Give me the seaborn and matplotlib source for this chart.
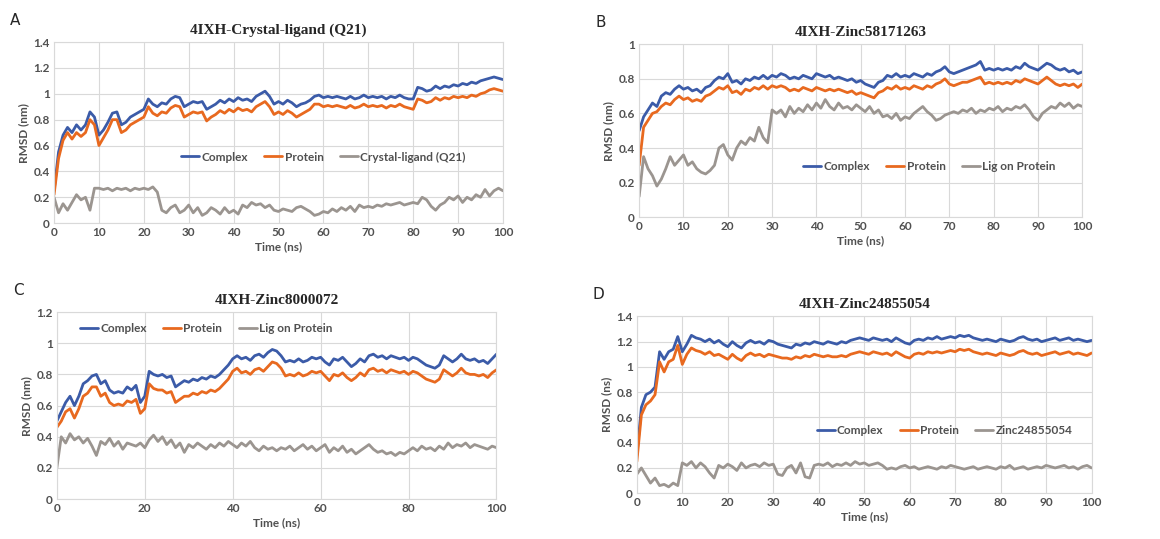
import pandas as pd
import numpy as np
import seaborn as sns
import matplotlib.pyplot as plt

time_ns = list(range(0, 101))

# Panel A - 4IXH-Crystal-ligand (Q21)
a_complex = [0.25, 0.55, 0.68, 0.74, 0.70, 0.76, 0.72, 0.76, 0.86, 0.82, 0.68, 0.72, 0.78, 0.85, 0.86, 0.76, 0.78, 0.82, 0.84, 0.86,
             0.88, 0.96, 0.92, 0.90, 0.93, 0.92, 0.96, 0.98, 0.97, 0.90, 0.92, 0.94, 0.93, 0.94, 0.88, 0.90, 0.92, 0.95, 0.93, 0.96,
             0.94, 0.97, 0.95, 0.96, 0.94, 0.98, 1.00, 1.02, 0.98, 0.92, 0.94, 0.92, 0.95, 0.93, 0.90, 0.92, 0.93, 0.95, 0.98, 0.99,
             0.97, 0.98, 0.97, 0.98, 0.97, 0.96, 0.98, 0.96, 0.97, 0.99, 0.97, 0.98, 0.97, 0.98, 0.96, 0.98, 0.97, 0.99, 0.97, 0.96,
             0.96, 1.05, 1.04, 1.02, 1.03, 1.06, 1.04, 1.06, 1.05, 1.07, 1.06, 1.08, 1.07, 1.09, 1.08, 1.10, 1.11, 1.12, 1.13, 1.12, 1.11]
a_protein = [0.22, 0.50, 0.64, 0.70, 0.65, 0.70, 0.67, 0.70, 0.80, 0.76, 0.60, 0.66, 0.72, 0.80, 0.80, 0.70, 0.72, 0.76, 0.78, 0.80,
             0.82, 0.90, 0.85, 0.83, 0.86, 0.85, 0.89, 0.91, 0.90, 0.82, 0.84, 0.86, 0.85, 0.86, 0.79, 0.82, 0.84, 0.87, 0.85, 0.88,
             0.86, 0.89, 0.87, 0.88, 0.86, 0.90, 0.92, 0.94, 0.90, 0.84, 0.86, 0.84, 0.87, 0.85, 0.82, 0.84, 0.86, 0.88, 0.92, 0.92,
             0.90, 0.91, 0.90, 0.91, 0.90, 0.89, 0.91, 0.89, 0.90, 0.92, 0.90, 0.91, 0.90, 0.91, 0.89, 0.91, 0.90, 0.92, 0.90, 0.89,
             0.88, 0.96, 0.95, 0.93, 0.94, 0.97, 0.95, 0.97, 0.96, 0.98, 0.97, 0.98, 0.97, 0.99, 0.98, 1.00, 1.01, 1.03, 1.04, 1.03, 1.02]
a_ligand = [0.20, 0.08, 0.15, 0.10, 0.16, 0.22, 0.18, 0.20, 0.10, 0.27, 0.27, 0.26, 0.27, 0.25, 0.27, 0.26, 0.27, 0.25, 0.27, 0.26,
            0.27, 0.26, 0.28, 0.24, 0.10, 0.08, 0.12, 0.14, 0.08, 0.10, 0.14, 0.08, 0.12, 0.06, 0.08, 0.12, 0.10, 0.07, 0.12, 0.08,
            0.10, 0.07, 0.14, 0.12, 0.16, 0.14, 0.15, 0.12, 0.14, 0.10, 0.09, 0.11, 0.10, 0.09, 0.12, 0.13, 0.11, 0.09, 0.06, 0.07,
            0.09, 0.08, 0.11, 0.09, 0.12, 0.10, 0.13, 0.09, 0.14, 0.12, 0.13, 0.12, 0.14, 0.13, 0.15, 0.14, 0.15, 0.16, 0.14, 0.15,
            0.16, 0.15, 0.20, 0.18, 0.13, 0.10, 0.14, 0.16, 0.20, 0.18, 0.21, 0.16, 0.20, 0.18, 0.22, 0.20, 0.26, 0.21, 0.25, 0.27, 0.25]

# Panel B - 4IXH-Zinc58171263
b_complex = [0.50, 0.58, 0.62, 0.66, 0.64, 0.70, 0.72, 0.71, 0.74, 0.76, 0.74, 0.75, 0.73, 0.74, 0.72, 0.75, 0.76, 0.79, 0.81, 0.80,
             0.83, 0.78, 0.79, 0.77, 0.80, 0.79, 0.81, 0.80, 0.82, 0.80, 0.82, 0.81, 0.83, 0.82, 0.80, 0.81, 0.80, 0.82, 0.81, 0.80,
             0.83, 0.82, 0.81, 0.82, 0.80, 0.81, 0.80, 0.79, 0.80, 0.78, 0.79, 0.77, 0.76, 0.75, 0.78, 0.79, 0.82, 0.81, 0.83, 0.81,
             0.82, 0.81, 0.83, 0.82, 0.81, 0.83, 0.82, 0.84, 0.85, 0.87, 0.84, 0.83, 0.84, 0.85, 0.86, 0.87, 0.88, 0.90, 0.85, 0.86,
             0.85, 0.86, 0.85, 0.86, 0.85, 0.87, 0.86, 0.89, 0.87, 0.86, 0.85, 0.87, 0.89, 0.88, 0.86, 0.85, 0.86, 0.84, 0.85, 0.83, 0.84]
b_protein = [0.30, 0.52, 0.56, 0.60, 0.61, 0.64, 0.66, 0.65, 0.68, 0.70, 0.68, 0.69, 0.67, 0.68, 0.67, 0.70, 0.71, 0.73, 0.75, 0.74,
             0.76, 0.72, 0.73, 0.71, 0.74, 0.73, 0.75, 0.74, 0.76, 0.74, 0.76, 0.75, 0.76, 0.75, 0.73, 0.74, 0.73, 0.75, 0.74, 0.73,
             0.75, 0.74, 0.73, 0.74, 0.73, 0.74, 0.73, 0.72, 0.73, 0.71, 0.72, 0.71, 0.70, 0.69, 0.72, 0.73, 0.75, 0.74, 0.76, 0.74,
             0.75, 0.74, 0.76, 0.75, 0.74, 0.76, 0.75, 0.77, 0.78, 0.80, 0.77, 0.76, 0.77, 0.78, 0.78, 0.79, 0.80, 0.81, 0.77, 0.78,
             0.77, 0.78, 0.77, 0.78, 0.77, 0.79, 0.78, 0.80, 0.79, 0.78, 0.77, 0.79, 0.81, 0.79, 0.77, 0.76, 0.77, 0.76, 0.77, 0.75, 0.77]
b_ligand = [0.12, 0.35, 0.28, 0.24, 0.18, 0.22, 0.28, 0.35, 0.30, 0.33, 0.36, 0.30, 0.32, 0.28, 0.26, 0.25, 0.27, 0.30, 0.40, 0.42,
            0.36, 0.33, 0.40, 0.44, 0.42, 0.46, 0.44, 0.52, 0.46, 0.43, 0.62, 0.60, 0.62, 0.58, 0.64, 0.60, 0.63, 0.61, 0.65, 0.62,
            0.66, 0.63, 0.68, 0.64, 0.62, 0.66, 0.63, 0.64, 0.62, 0.65, 0.63, 0.61, 0.64, 0.60, 0.62, 0.58, 0.59, 0.57, 0.60, 0.56,
            0.58, 0.57, 0.60, 0.62, 0.64, 0.61, 0.59, 0.56, 0.57, 0.59, 0.60, 0.61, 0.60, 0.62, 0.61, 0.63, 0.60, 0.62, 0.61, 0.63,
            0.62, 0.64, 0.61, 0.63, 0.62, 0.64, 0.63, 0.65, 0.62, 0.58, 0.56, 0.60, 0.62, 0.64, 0.63, 0.66, 0.64, 0.66, 0.63, 0.65, 0.64]

# Panel C - 4IXH-Zinc8000072
c_complex = [0.50, 0.56, 0.62, 0.66, 0.60, 0.66, 0.74, 0.76, 0.79, 0.80, 0.74, 0.76, 0.70, 0.68, 0.69, 0.68, 0.72, 0.70, 0.73, 0.62,
             0.66, 0.82, 0.80, 0.79, 0.80, 0.78, 0.79, 0.72, 0.74, 0.76, 0.75, 0.77, 0.76, 0.78, 0.77, 0.79, 0.78, 0.80, 0.83, 0.86,
             0.90, 0.92, 0.90, 0.91, 0.89, 0.92, 0.93, 0.91, 0.94, 0.96, 0.95, 0.92, 0.88, 0.89, 0.88, 0.90, 0.88, 0.89, 0.91, 0.90,
             0.91, 0.88, 0.86, 0.90, 0.89, 0.91, 0.88, 0.85, 0.87, 0.90, 0.88, 0.92, 0.93, 0.91, 0.92, 0.90, 0.92, 0.91, 0.90, 0.91,
             0.89, 0.91, 0.90, 0.88, 0.86, 0.85, 0.84, 0.86, 0.92, 0.90, 0.88, 0.90, 0.93, 0.90, 0.89, 0.90, 0.88, 0.89, 0.87, 0.90, 0.93]
c_protein = [0.46, 0.50, 0.56, 0.58, 0.52, 0.58, 0.66, 0.68, 0.72, 0.72, 0.66, 0.68, 0.62, 0.60, 0.61, 0.60, 0.63, 0.62, 0.64, 0.55,
             0.58, 0.74, 0.71, 0.70, 0.70, 0.68, 0.69, 0.62, 0.64, 0.66, 0.66, 0.68, 0.67, 0.69, 0.68, 0.70, 0.69, 0.71, 0.74, 0.77,
             0.82, 0.84, 0.81, 0.82, 0.80, 0.83, 0.84, 0.82, 0.85, 0.88, 0.87, 0.84, 0.79, 0.80, 0.79, 0.81, 0.79, 0.80, 0.82, 0.81,
             0.82, 0.79, 0.76, 0.80, 0.79, 0.81, 0.78, 0.76, 0.78, 0.81, 0.79, 0.83, 0.84, 0.82, 0.83, 0.81, 0.83, 0.82, 0.81, 0.82,
             0.80, 0.82, 0.81, 0.79, 0.77, 0.76, 0.75, 0.77, 0.83, 0.81, 0.79, 0.81, 0.84, 0.81, 0.80, 0.80, 0.79, 0.80, 0.78, 0.81, 0.83]
c_ligand = [0.20, 0.40, 0.36, 0.42, 0.38, 0.40, 0.36, 0.39, 0.34, 0.28, 0.37, 0.35, 0.39, 0.34, 0.37, 0.32, 0.36, 0.35, 0.34, 0.36,
            0.33, 0.38, 0.41, 0.37, 0.40, 0.35, 0.38, 0.33, 0.36, 0.30, 0.35, 0.33, 0.36, 0.34, 0.32, 0.35, 0.33, 0.36, 0.34, 0.37,
            0.35, 0.33, 0.36, 0.34, 0.37, 0.33, 0.31, 0.34, 0.32, 0.33, 0.31, 0.33, 0.32, 0.34, 0.31, 0.33, 0.35, 0.32, 0.34, 0.31,
            0.33, 0.35, 0.30, 0.33, 0.31, 0.34, 0.30, 0.32, 0.29, 0.31, 0.33, 0.35, 0.32, 0.30, 0.31, 0.29, 0.30, 0.28, 0.30, 0.29,
            0.31, 0.33, 0.31, 0.34, 0.32, 0.33, 0.31, 0.34, 0.32, 0.36, 0.33, 0.35, 0.34, 0.36, 0.33, 0.35, 0.34, 0.33, 0.32, 0.34, 0.33]

# Panel D - 4IXH-Zinc24855054
d_complex = [0.30, 0.68, 0.78, 0.80, 0.84, 1.12, 1.06, 1.12, 1.14, 1.24, 1.12, 1.18, 1.25, 1.23, 1.22, 1.20, 1.22, 1.19, 1.21, 1.18,
             1.16, 1.20, 1.17, 1.15, 1.19, 1.21, 1.19, 1.20, 1.18, 1.21, 1.20, 1.18, 1.17, 1.16, 1.15, 1.18, 1.17, 1.19, 1.18, 1.20,
             1.19, 1.18, 1.20, 1.19, 1.18, 1.20, 1.19, 1.21, 1.22, 1.23, 1.22, 1.21, 1.23, 1.22, 1.21, 1.22, 1.20, 1.23, 1.21, 1.19,
             1.18, 1.21, 1.22, 1.21, 1.23, 1.22, 1.24, 1.22, 1.23, 1.24, 1.23, 1.25, 1.24, 1.25, 1.23, 1.22, 1.21, 1.22, 1.21, 1.20,
             1.22, 1.21, 1.20, 1.21, 1.23, 1.24, 1.22, 1.21, 1.22, 1.20, 1.21, 1.22, 1.23, 1.21, 1.22, 1.23, 1.21, 1.22, 1.21, 1.20, 1.21]
d_protein = [0.25, 0.62, 0.70, 0.73, 0.78, 1.04, 0.96, 1.04, 1.06, 1.17, 1.02, 1.10, 1.15, 1.13, 1.12, 1.10, 1.12, 1.09, 1.10, 1.08,
             1.06, 1.10, 1.07, 1.05, 1.09, 1.11, 1.09, 1.10, 1.08, 1.10, 1.09, 1.08, 1.07, 1.07, 1.06, 1.08, 1.07, 1.09, 1.08, 1.10,
             1.09, 1.08, 1.09, 1.08, 1.08, 1.09, 1.08, 1.10, 1.11, 1.12, 1.11, 1.10, 1.12, 1.11, 1.10, 1.11, 1.09, 1.12, 1.10, 1.08,
             1.07, 1.10, 1.11, 1.10, 1.12, 1.11, 1.12, 1.11, 1.12, 1.13, 1.12, 1.14, 1.13, 1.14, 1.12, 1.11, 1.10, 1.11, 1.10, 1.09,
             1.11, 1.10, 1.09, 1.10, 1.12, 1.13, 1.11, 1.10, 1.11, 1.09, 1.10, 1.11, 1.12, 1.10, 1.11, 1.12, 1.10, 1.11, 1.10, 1.09, 1.11]
d_ligand = [0.15, 0.20, 0.14, 0.08, 0.12, 0.06, 0.07, 0.05, 0.08, 0.06, 0.24, 0.22, 0.25, 0.20, 0.24, 0.21, 0.16, 0.12, 0.22, 0.20,
            0.23, 0.21, 0.18, 0.24, 0.20, 0.22, 0.23, 0.21, 0.24, 0.22, 0.23, 0.15, 0.14, 0.20, 0.22, 0.16, 0.24, 0.13, 0.12, 0.22,
            0.23, 0.22, 0.24, 0.21, 0.23, 0.22, 0.24, 0.22, 0.25, 0.23, 0.24, 0.22, 0.23, 0.24, 0.22, 0.19, 0.20, 0.19, 0.21, 0.22,
            0.20, 0.21, 0.19, 0.20, 0.21, 0.20, 0.19, 0.21, 0.20, 0.22, 0.21, 0.20, 0.19, 0.20, 0.21, 0.19, 0.20, 0.21, 0.20, 0.19,
            0.21, 0.20, 0.22, 0.19, 0.20, 0.21, 0.19, 0.20, 0.21, 0.20, 0.22, 0.21, 0.20, 0.21, 0.22, 0.20, 0.21, 0.19, 0.21, 0.22, 0.20]

sns.set_theme(style="whitegrid")
plt.rcParams['font.family'] = ['Lato', 'DejaVu Sans']

colores = ["#3b5ba8", "#e8691f", "#9b9590"]
texto_gris = "#505050"

paneles = [
    dict(letra="A", titulo="4IXH-Crystal-ligand (Q21)", series=[a_complex, a_protein, a_ligand],
         nombres=["Complex", "Protein", "Crystal-ligand (Q21)"], ymax=1.4, xpaso=10, ylab="RMSD (nm)",
         pos=[0.0466, 0.586, 0.387, 0.336], leg=(0.60, 0.365)),
    dict(letra="B", titulo="4IXH-Zinc58171263", series=[b_complex, b_protein, b_ligand],
         nombres=["Complex", "Protein", "Lig on Protein"], ymax=1.0, xpaso=10, ylab="RMSD (nm)",
         pos=[0.551, 0.597, 0.382, 0.321], leg=(0.655, 0.295)),
    dict(letra="C", titulo="4IXH-Zinc8000072", series=[c_complex, c_protein, c_ligand],
         nombres=["Complex", "Protein", "Lig on Protein"], ymax=1.2, xpaso=20, ylab="RMSD (nm)",
         pos=[0.049, 0.074, 0.379, 0.347], leg=(0.34, 0.914)),
    dict(letra="D", titulo="4IXH-Zinc24855054", series=[d_complex, d_protein, d_ligand],
         nombres=["Complex", "Protein", "Zinc24855054"], ymax=1.4, xpaso=10, ylab="RMSD (ns)",
         pos=[0.549, 0.085, 0.392, 0.328], leg=(0.677, 0.356)),
]

fig = plt.figure(figsize=(11.6, 5.39), dpi=100)

for p in paneles:
    ax = fig.add_axes(p["pos"])
    df = pd.concat([pd.DataFrame({"Time": time_ns, "RMSD": vals, "serie": nom})
                    for vals, nom in zip(p["series"], p["nombres"])])
    sns.lineplot(data=df, x="Time", y="RMSD", hue="serie", hue_order=p["nombres"],
                 palette=colores, linewidth=2.0, errorbar=None, ax=ax)
    ax.set_xlim(0, 100)
    ax.set_ylim(0, p["ymax"])
    ax.set_xticks(np.arange(0, 101, p["xpaso"]))
    yt = np.round(np.arange(0, p["ymax"] + 0.01, 0.2), 1)
    ax.set_yticks(yt)
    ax.set_yticklabels([f"{v:g}" for v in yt])
    ax.tick_params(length=0, labelsize=8.5, labelcolor=texto_gris, pad=3)
    for lab in ax.get_xticklabels() + ax.get_yticklabels():
        lab.set_fontweight("bold")
    ax.grid(color="#d9d9d9", linewidth=0.8)
    for s in ax.spines.values():
        s.set_color("#d9d9d9")
        s.set_linewidth(0.8)
    ax.set_xlabel("Time (ns)", fontsize=8.5, fontweight="bold", color=texto_gris, labelpad=2)
    ax.set_ylabel(p["ylab"], fontsize=8.5, fontweight="bold", color=texto_gris, labelpad=3)
    ax.set_title(p["titulo"], fontsize=11, fontweight="bold", family="Liberation Serif", pad=6)
    sns.move_legend(ax, "center", bbox_to_anchor=p["leg"], ncol=3, frameon=False, title=None,
                    fontsize=8.5, handlelength=1.5, handletextpad=0.2, columnspacing=1.4)
    for t in ax.get_legend().get_texts():
        t.set_fontweight("bold")
        t.set_color(texto_gris)
    x0, y0, w, h = p["pos"]
    fig.text(x0 - 0.038, y0 + h + 0.04, p["letra"], fontsize=11, family="DejaVu Sans", va="center")

plt.savefig("out.png", dpi=100)
